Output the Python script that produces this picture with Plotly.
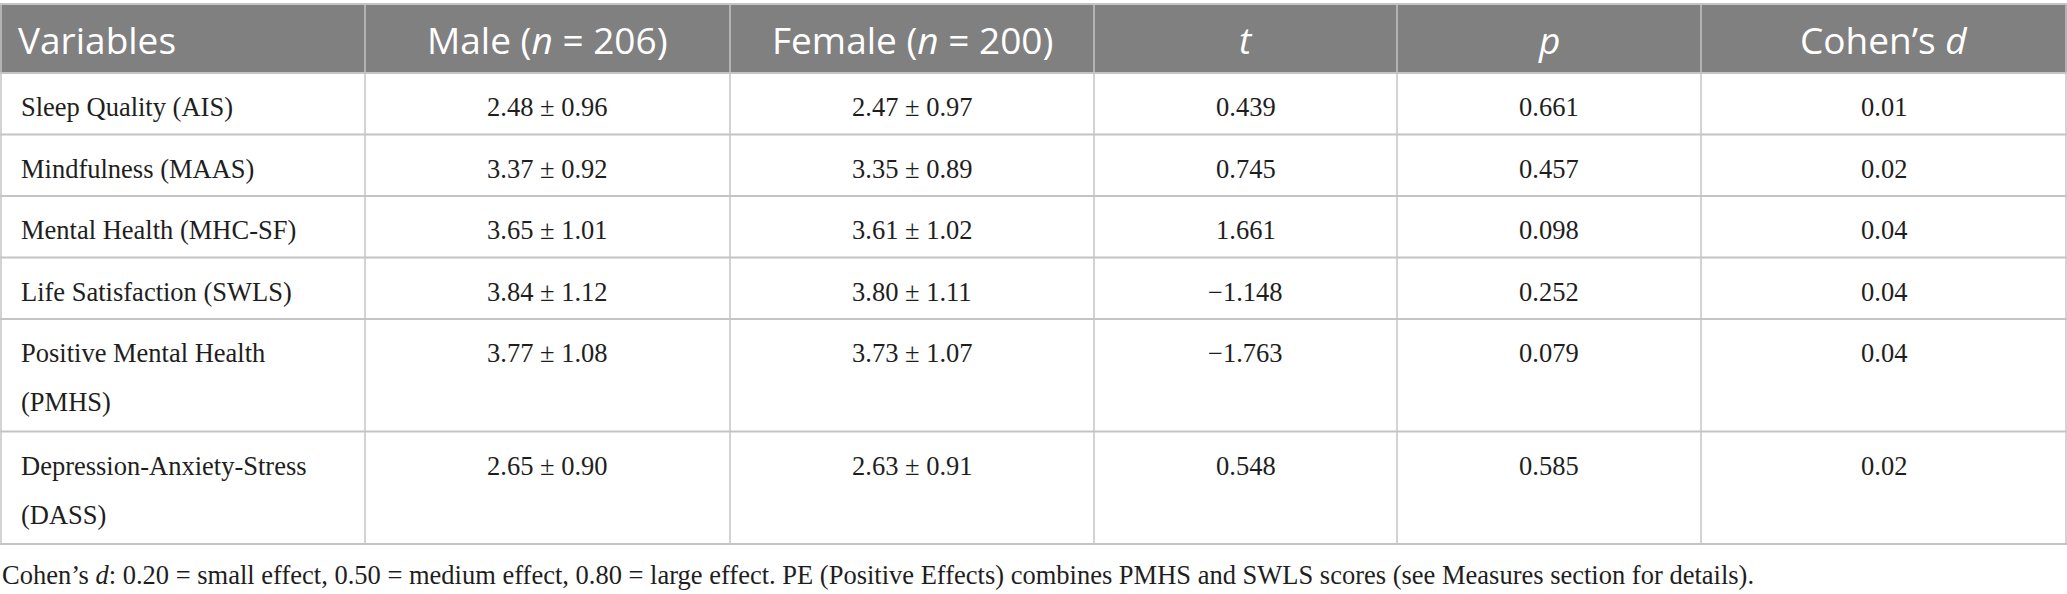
import plotly.graph_objects as go

# ---- data ----
headers = ["Variables", "Male (<i>n</i> = 206)", "Female (<i>n</i> = 200)", "<i>t</i>", "<i>p</i>", "Cohen’s <i>d</i>"]
variables = [
    ["Sleep Quality (AIS)"],
    ["Mindfulness (MAAS)"],
    ["Mental Health (MHC-SF)"],
    ["Life Satisfaction (SWLS)"],
    ["Positive Mental Health", "(PMHS)"],
    ["Depression-Anxiety-Stress", "(DASS)"],
]
male = ["2.48 ± 0.96", "3.37 ± 0.92", "3.65 ± 1.01", "3.84 ± 1.12", "3.77 ± 1.08", "2.65 ± 0.90"]
female = ["2.47 ± 0.97", "3.35 ± 0.89", "3.61 ± 1.02", "3.80 ± 1.11", "3.73 ± 1.07", "2.63 ± 0.91"]
t_vals = ["0.439", "0.745", "1.661", "−1.148", "−1.763", "0.548"]
p_vals = ["0.661", "0.457", "0.098", "0.252", "0.079", "0.585"]
d_vals = ["0.01", "0.02", "0.04", "0.04", "0.04", "0.02"]
footnote = ("Cohen’s <i>d</i>: 0.20 = small effect, 0.50 = medium effect, 0.80 = large effect. "
            "PE (Positive Effects) combines PMHS and SWLS scores (see Measures section for details).")

# ---- layout constants ----
W, H = 2067, 594
col_edges = [0, 365, 730, 1094, 1397, 1701, 2067]
top = 4
header_h = 69
single_h = 61.5
extra_line_h = 51
line_gap = 49
first_line_off = 34
body_font = "Liberation Serif"
head_font = "Open Sans"
body_size = 26.5
head_size = 37
grid_col = "#c4c4c4"
head_fill = "#7f807f"
text_col = "#1e1e1e"

columns = [variables, male, female, t_vals, p_vals, d_vals]

# row heights
row_h = [single_h + (len(v) - 1) * extra_line_h for v in variables]
row_tops = [top + header_h]
for h in row_h:
    row_tops.append(row_tops[-1] + h)

fig = go.Figure()
shapes = []
annotations = []

# header background
shapes.append(dict(type="rect", xref="x", yref="y", x0=0, x1=W, y0=top, y1=top + header_h,
                   fillcolor=head_fill, line=dict(width=0), layer="below"))
# top line
shapes.append(dict(type="line", xref="x", yref="y", x0=0, x1=W, y0=top, y1=top,
                   line=dict(color=grid_col, width=2)))
# horizontal lines
for y in row_tops:
    shapes.append(dict(type="line", xref="x", yref="y", x0=0, x1=W, y0=y, y1=y,
                       line=dict(color=grid_col, width=2)))
# vertical lines
for x in col_edges:
    xx = min(max(x, 1), W - 1)
    shapes.append(dict(type="line", xref="x", yref="y", x0=xx, x1=xx, y0=top, y1=row_tops[-1],
                       line=dict(color=grid_col, width=1.5)))

# header text
for j, htxt in enumerate(headers):
    if j == 0:
        x, anchor = col_edges[0] + 16, "left"
    else:
        x, anchor = (col_edges[j] + col_edges[j + 1]) / 2, "center"
    annotations.append(dict(x=x, y=top + header_h / 2 + 1, xref="x", yref="y", text=htxt,
                            showarrow=False, xanchor=anchor, yanchor="middle",
                            font=dict(family=head_font, size=head_size, color="white")))

# body text
for i in range(len(variables)):
    y0 = row_tops[i] + first_line_off
    for k, line in enumerate(variables[i]):
        annotations.append(dict(x=col_edges[0] + 19, y=y0 + k * line_gap, xref="x", yref="y",
                                text=line, showarrow=False, xanchor="left", yanchor="middle",
                                font=dict(family=body_font, size=body_size, color=text_col)))
    for j in range(1, 6):
        annotations.append(dict(x=(col_edges[j] + col_edges[j + 1]) / 2, y=y0, xref="x", yref="y",
                                text=columns[j][i], showarrow=False, xanchor="center", yanchor="middle",
                                font=dict(family=body_font, size=body_size, color=text_col)))

# footnote
annotations.append(dict(x=0, y=row_tops[-1] + 31, xref="x", yref="y", text=footnote,
                        showarrow=False, xanchor="left", yanchor="middle",
                        font=dict(family=body_font, size=body_size, color=text_col)))

fig.add_trace(go.Scatter(x=[0, W], y=[0, H], mode="markers", marker=dict(opacity=0),
                         hoverinfo="skip", showlegend=False))

fig.update_layout(
    width=W, height=H,
    margin=dict(l=0, r=0, t=0, b=0),
    paper_bgcolor="white", plot_bgcolor="white",
    xaxis=dict(range=[0, W], visible=False, fixedrange=True),
    yaxis=dict(range=[H, 0], visible=False, fixedrange=True),
    shapes=shapes, annotations=annotations,
    showlegend=False,
)

fig.write_html("out.html", config={"displayModeBar": False},
               post_script="document.body.style.margin='0';document.body.style.overflow='hidden';")
